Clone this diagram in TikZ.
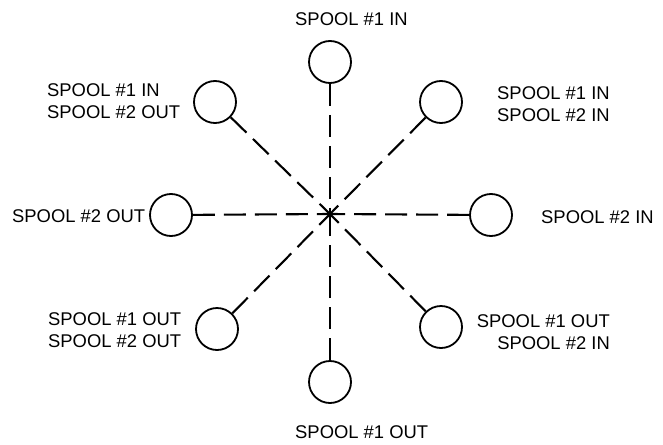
\documentclass[tikz,border=0pt]{standalone}
\usepackage{fontspec}
\setmainfont{Liberation Sans}
\begin{document}
\begin{tikzpicture}[x=1pt,y=-1pt,
  port/.style={circle,draw,line width=1.8pt,minimum size=42pt,inner sep=0pt},
  link/.style={line width=2.1pt,dash pattern=on 22pt off 9pt},
  lbl/.style={inner sep=0pt,font=\fontsize{18.4}{22}\selectfont}]
\useasboundingbox (0,0) rectangle (663,444);
\coordinate (c) at (330,214);
\node[port] (t)  at (330,62)  {};
\node[port] (b)  at (330,382) {};
\node[port] (l)  at (171,215) {};
\node[port] (r)  at (491,215) {};
\node[port] (ul) at (215,102) {};
\node[port] (ur) at (441,102) {};
\node[port] (ll) at (217,329) {};
\node[port] (lr) at (441,327) {};
\foreach \p in {t,b,l,r,ul,ur,ll,lr} \draw[link] (\p) -- (c);
\node[lbl,anchor=west] (tl) at (295,19) {SPOOL \#1 IN};
\node[lbl,anchor=west] (bl) at (295,432) {SPOOL \#1 OUT};
\node[lbl,anchor=west] (ll0) at (12,216) {SPOOL \#2 OUT};
\node[lbl,anchor=west] (rl) at (541,217) {SPOOL \#2 IN};
\node[lbl,anchor=west,align=left] (ull) at (47,101) {SPOOL \#1 IN\\SPOOL \#2 OUT};
\node[lbl,anchor=west,align=left] (url) at (497,104) {SPOOL \#1 IN\\SPOOL \#2 IN};
\node[lbl,anchor=west,align=left] (lll) at (48,330.5) {SPOOL \#1 OUT\\SPOOL \#2 OUT};
\node[lbl,anchor=east,align=right] (lrl) at (610,332.5) {SPOOL \#1 OUT\\SPOOL \#2 IN};
\end{tikzpicture}
\end{document}
